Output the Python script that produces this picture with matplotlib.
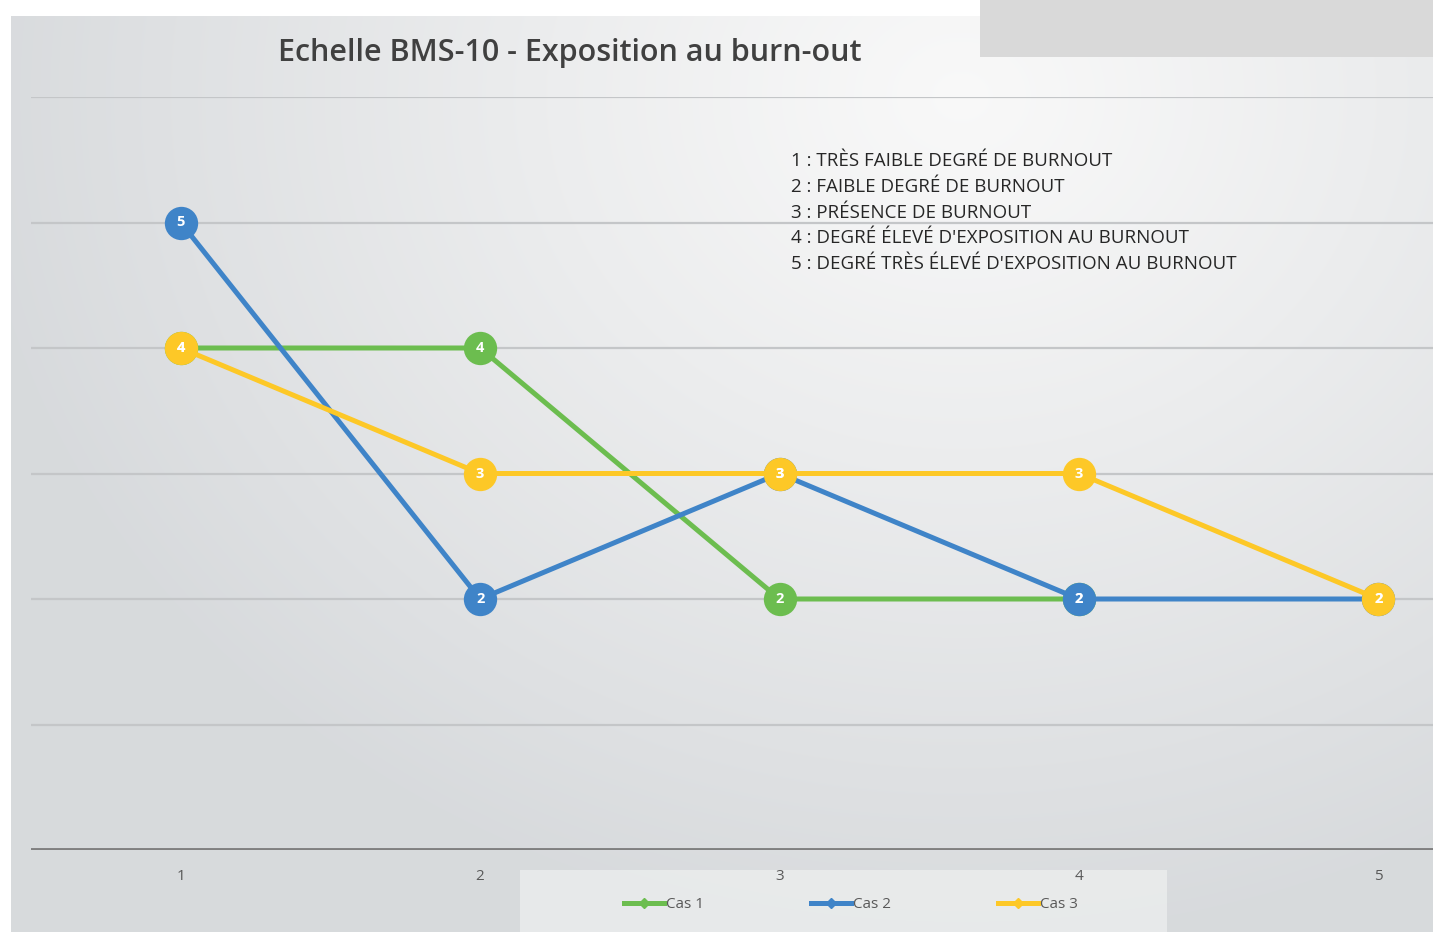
import numpy as np
import matplotlib.pyplot as plt
from matplotlib.patches import Rectangle
from matplotlib.lines import Line2D

# Data
categories = [1, 2, 3, 4, 5]
cas1 = [4, 4, 2, 2, np.nan]
cas2 = [5, 2, 3, 2, 2]
cas3 = [4, 3, 3, 3, 2]
series_names = ["Cas 1", "Cas 2", "Cas 3"]
series_colors = ["#6cbd4f", "#3f84c8", "#fdc827"]
scale_notes = [
    "1 : TRÈS FAIBLE DEGRÉ DE BURNOUT",
    "2 : FAIBLE DEGRÉ DE BURNOUT",
    "3 : PRÉSENCE DE BURNOUT",
    "4 : DEGRÉ ÉLEVÉ D'EXPOSITION AU BURNOUT",
    "5 : DEGRÉ TRÈS ÉLEVÉ D'EXPOSITION AU BURNOUT",
]
title = "Echelle BMS-10 - Exposition au burn-out"

W, H = 1433, 932
fig = plt.figure(figsize=(W / 100, H / 100), dpi=100)
fig.patch.set_facecolor("white")

# gradient background of the chart area
bg = fig.add_axes([11 / W, 0, 1 - 11 / W, (H - 16) / H], zorder=0)
gy, gx = np.mgrid[0:H - 16, 0:W - 11]
d = np.sqrt(((gx - 950) / 1000.0) ** 2 + ((gy - 80) / 850.0) ** 2)
t = np.clip(d, 0, 1) ** 1.1
light = np.array([0.975, 0.975, 0.975])
dark = np.array([0.845, 0.855, 0.865])
img = light[None, None, :] * (1 - t[..., None]) + dark[None, None, :] * t[..., None]
bg.imshow(img, aspect="auto", extent=[0, 1, 0, 1])
bg.axis("off")

# grey block in the top right corner
fig.patches.append(Rectangle((980 / W, 1 - 57 / H), (W - 980) / W, 57 / H,
                             transform=fig.transFigure, facecolor="#d9d9d9",
                             edgecolor="none", zorder=1))

ax = fig.add_axes([31 / W, 82 / H, 1497 / W, 753 / H], zorder=2)
ax.set_facecolor("none")
ax.set_xlim(0.5, 5.5)
ax.set_ylim(0, 6)
for s in ax.spines.values():
    s.set_visible(False)
ax.set_yticks([])
ax.set_xticks(categories)
ax.set_xticklabels([str(c) for c in categories], fontsize=11, color="#595959",
                   family="Open Sans")
ax.tick_params(axis="x", length=0, pad=14)
for yv in range(1, 7):
    ax.axhline(yv, color="#c4c6c8", lw=1.6, zorder=1)
ax.axhline(0, color="#808080", lw=2.8, zorder=1)

for vals, name, col in zip([cas1, cas2, cas3], series_names, series_colors):
    ax.plot(categories, vals, color=col, lw=3.6, marker="o", markersize=24,
            markeredgewidth=0, label=name, zorder=3, solid_capstyle="round")
    for xv, yv in zip(categories, vals):
        if not np.isnan(yv):
            ax.text(xv, yv, str(int(yv)), color="white", fontsize=10.5,
                    fontweight="bold", ha="center", va="center", zorder=4,
                    family="Open Sans")

# title
fig.text(570 / W, 1 - 53 / H, title, fontsize=22, fontweight="semibold",
         color="#404040", ha="center", va="center", family="Open Sans", zorder=5)

# scale description
for i, line in enumerate(scale_notes):
    fig.text(791 / W, 1 - (161 + 25.8 * i) / H, line, fontsize=13.5,
             color="#262626", ha="left", va="center", family="Open Sans", zorder=5)

# legend
fig.patches.append(Rectangle((520 / W, 0), (1167 - 520) / W, 62 / H,
                             transform=fig.transFigure, facecolor="#eceeee",
                             edgecolor="none", alpha=0.8, zorder=1))
handles = [Line2D([0], [0], color=c, lw=3.6, marker="D", markersize=5)
           for c in series_colors]
leg = fig.legend(handles, series_names, loc="center", ncol=3,
                 bbox_to_anchor=(851 / W, 1 - 905 / H), frameon=False,
                 handlelength=2.6, handletextpad=0.15, columnspacing=7.0,
                 prop={"family": "Open Sans", "size": 11})
for txt in leg.get_texts():
    txt.set_color("#595959")

fig.savefig("out.png", dpi=100)
